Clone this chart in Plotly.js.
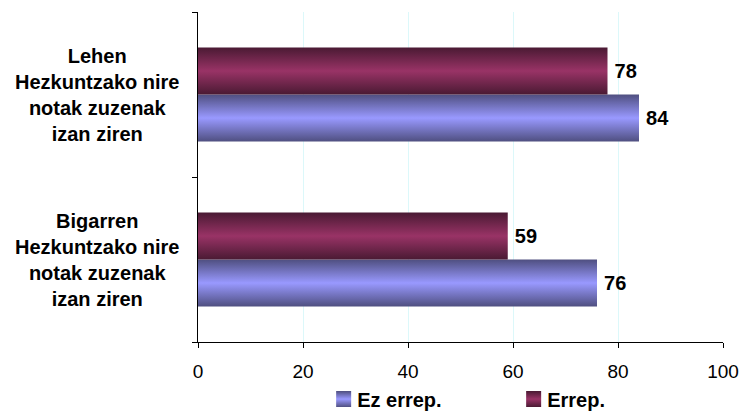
<!DOCTYPE html>
<html>
<head>
<meta charset="utf-8">
<script src="https://cdn.plot.ly/plotly-3.0.1.min.js"></script>
<style>
  html, body { margin: 0; padding: 0; background: #ffffff; }
  #chart { width: 741px; height: 414px; }
</style>
</head>
<body>
<div id="chart"></div>
<script>
// ---- data ----
var categories = [
  'Lehen<br>Hezkuntzako nire<br>notak zuzenak<br>izan ziren',
  'Bigarren<br>Hezkuntzako nire<br>notak zuzenak<br>izan ziren'
];
var seriesNames = ['Ez errep.', 'Errep.'];
var ezErrepValues = [84, 76];
var errepValues = [78, 59];
var xTickValues = [0, 20, 40, 60, 80, 100];
var xTickLabels = ['0', '20', '40', '60', '80', '100'];

// ---- style ----
var FONT = 'Liberation Sans, Arial, sans-serif';
var gradients = [
  { id: 'gradEz', edge: '#4f4f80', mid: '#9999ff' },
  { id: 'gradErrep', edge: '#4a1a33', mid: '#993366' }
];

function labelText(v) { return '\u2009' + String(v); }

var traces = [
  {
    type: 'bar', orientation: 'h', name: seriesNames[0],
    x: ezErrepValues, y: categories,
    marker: { color: '#8080e0', line: { width: 0 } },
    text: ezErrepValues.map(labelText), textposition: 'outside', cliponaxis: false,
    textfont: { family: FONT, size: 20, color: '#000000', weight: 'bold' },
    hoverinfo: 'x+name'
  },
  {
    type: 'bar', orientation: 'h', name: seriesNames[1],
    x: errepValues, y: categories,
    marker: { color: '#80284f', line: { width: 0 } },
    text: errepValues.map(labelText), textposition: 'outside', cliponaxis: false,
    textfont: { family: FONT, size: 20, color: '#000000', weight: 'bold' },
    hoverinfo: 'x+name'
  }
];

var annotations = categories.map(function (c) {
  return {
    xref: 'paper', yref: 'y', x: -0.1924, y: c,
    xanchor: 'center', yanchor: 'middle', align: 'center',
    text: '<b>' + c + '</b>', showarrow: false,
    font: { family: FONT, size: 20, color: '#000000' }
  };
});

var layout = {
  width: 741, height: 414,
  margin: { l: 198, r: 18, t: 12, b: 72, autoexpand: false },
  paper_bgcolor: '#ffffff', plot_bgcolor: '#ffffff',
  barmode: 'group', bargap: 0.43, bargroupgap: 0,
  showlegend: true,
  font: { family: FONT, size: 20, color: '#000000' },
  xaxis: {
    range: [0, 100], tickvals: xTickValues, ticktext: xTickLabels,
    showgrid: true, gridcolor: '#dcf8fa', gridwidth: 1,
    zeroline: false, showline: true, linecolor: '#000000', linewidth: 1,
    ticks: 'outside', ticklen: 5, tickcolor: '#000000',
    ticklabelstandoff: 7,
    tickfont: { family: FONT, size: 19, color: '#000000' }
  },
  yaxis: {
    type: 'category', categoryorder: 'array',
    categoryarray: categories.slice().reverse(),
    showticklabels: false, showgrid: false, zeroline: false,
    showline: true, linecolor: '#000000', linewidth: 1,
    ticks: 'outside', tickson: 'boundaries', ticklen: 5, tickcolor: '#000000'
  },
  legend: {
    orientation: 'h', traceorder: 'normal',
    xref: 'container', yref: 'container',
    x: 0.428, xanchor: 'left', y: 0.036, yanchor: 'middle',
    entrywidth: 145, entrywidthmode: 'pixels',
    font: { family: FONT, size: 20, color: '#000000', weight: 'bold' },
    bgcolor: 'rgba(0,0,0,0)'
  },
  annotations: annotations
};

function applyGradients(gd) {
  var svgNS = 'http://www.w3.org/2000/svg';
  var svg = gd.querySelector('svg.main-svg');
  var defs = document.createElementNS(svgNS, 'defs');
  gradients.forEach(function (g) {
    var lg = document.createElementNS(svgNS, 'linearGradient');
    lg.setAttribute('id', g.id);
    lg.setAttribute('x1', '0'); lg.setAttribute('y1', '0');
    lg.setAttribute('x2', '0'); lg.setAttribute('y2', '1');
    [[0, g.edge], [0.5, g.mid], [1, g.edge]].forEach(function (s) {
      var st = document.createElementNS(svgNS, 'stop');
      st.setAttribute('offset', s[0]);
      st.setAttribute('stop-color', s[1]);
      lg.appendChild(st);
    });
    defs.appendChild(lg);
  });
  svg.insertBefore(defs, svg.firstChild);
  var barTraces = gd.querySelectorAll('.barlayer .trace');
  barTraces.forEach(function (t, i) {
    t.querySelectorAll('.point path').forEach(function (p) {
      p.style.fill = 'url(#' + gradients[i].id + ')';
    });
  });
  var legItems = gd.querySelectorAll('.legend .traces');
  legItems.forEach(function (t, i) {
    t.querySelectorAll('.legendpoints path').forEach(function (p) {
      p.style.fill = 'url(#' + gradients[i].id + ')';
      p.setAttribute('d', 'M14,8H-1V-8H14Z');
    });
  });
}

var gd = document.getElementById('chart');
Plotly.newPlot(gd, traces, layout, { displayModeBar: false, staticPlot: true })
  .then(function () { applyGradients(gd); });
</script>
</body>
</html>
